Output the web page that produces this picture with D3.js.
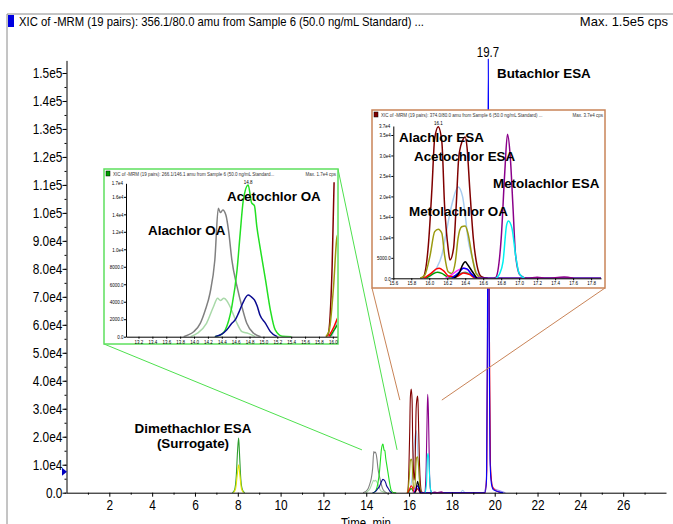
<!DOCTYPE html>
<html>
<head>
<meta charset="utf-8">
<script src="https://cdn.jsdelivr.net/npm/d3@7"></script>
<style>
body { margin: 0; background: #fff; }
svg { display: block; }
.nar { font-family: "Liberation Sans Narrow", "Arial Narrow", "Liberation Sans", Arial, sans-serif; }
.lbl { font-family: "Liberation Sans", Arial, sans-serif; font-weight: bold; font-size: 13.4px; fill: #000; }
</style>
</head>
<body>
<div id="main"></div>
<script>
// traces, [time (min), intensity (cps)]
const gray = [[13.85,0],[13.9,150],[14.0,600],[14.09,1530],[14.16,3000],[14.23,4970],[14.3,8780],[14.35,14700],[14.38,14200],[14.415,14500],[14.46,13900],[14.5,12000],[14.545,8780],[14.62,5720],[14.69,3430],[14.76,1530],[14.86,390],[14.96,0]]
const paleGreen = [[13.95,0],[14.05,400],[14.18,1530],[14.28,3430],[14.34,4390],[14.38,4150],[14.43,4390],[14.47,4150],[14.52,3430],[14.62,1530],[14.69,580],[14.78,380],[14.88,0]]
const green = [[14.3,0],[14.4,300],[14.45,770],[14.545,3430],[14.62,7630],[14.665,11800],[14.71,15600],[14.78,17350],[14.83,15300],[14.87,15000],[14.905,12600],[14.95,10300],[15.03,6490],[15.1,3050],[15.17,770],[15.27,50],[15.4,0]]
const navy = [[14.3,0],[14.4,300],[14.47,770],[14.545,1530],[14.6,2000],[14.64,2670],[14.7,3800],[14.78,4770],[14.82,4600],[14.87,4200],[14.91,3500],[14.95,2480],[15.03,1530],[15.1,580],[15.2,0]]
const darkRed = [[15.9,0],[15.93,200],[15.99,8100],[16.03,22000],[16.06,34100],[16.1,37000],[16.14,33300],[16.17,17900],[16.21,7300],[16.23,4460],[16.27,7300],[16.3,17900],[16.33,30000],[16.38,34100],[16.4,34500],[16.42,32000],[16.45,22000],[16.49,9760],[16.53,3240],[16.58,400],[16.65,0]]
const olive = [[15.9,0],[15.95,800],[16.01,5680],[16.06,11400],[16.1,12000],[16.14,11000],[16.17,5680],[16.21,1600],[16.25,1200],[16.29,4000],[16.32,9760],[16.36,12600],[16.4,12800],[16.43,11000],[16.48,4900],[16.52,1200],[16.58,0]]
const lightBlue = [[15.98,0],[16.08,2440],[16.14,5680],[16.19,11400],[16.25,17900],[16.32,22300],[16.37,20000],[16.4,15400],[16.43,9760],[16.48,4900],[16.53,1200],[16.62,0],[18.4,0],[18.5,900],[18.6,0]]
const purple = [[16.72,0],[16.74,200],[16.8,9760],[16.84,26000],[16.87,35200],[16.9,30000],[16.93,17900],[16.96,5680],[17.01,800],[17.09,0],[17.2,250],[17.3,0],[17.5,300],[17.6,0]]
const cyan = [[16.74,0],[16.78,1000],[16.82,4000],[16.86,13000],[16.88,14000],[16.92,12200],[16.96,5680],[17.0,1200],[17.06,0]]
const red = [[15.94,0],[16.02,1200],[16.08,2300],[16.11,2440],[16.16,1800],[16.22,500],[16.3,400],[16.38,1300],[16.45,900],[16.52,0],[19.55,0],[19.63,8000],[19.67,70000],[19.71,130000],[19.75,60000],[19.8,10000],[19.9,2000],[20.1,500],[20.3,0]]
const smallGreen = [[15.96,0],[16.03,900],[16.09,1500],[16.14,1200],[16.2,400],[16.26,0]]
const teal = [[16.22,0],[16.3,700],[16.4,1500],[16.46,900],[16.52,0]]
const black = [[16.27,0],[16.3,400],[16.34,1600],[16.37,3240],[16.4,4050],[16.43,3240],[16.48,1600],[16.53,0]]
const magenta = [[16.18,0],[16.25,900],[16.32,2000],[16.38,2500],[16.43,2000],[16.5,500],[16.56,0]]
const blue = [[16.25,0],[16.32,1200],[16.38,2440],[16.42,2300],[16.47,1000],[16.54,0],[19.55,0],[19.62,5000],[19.66,60000],[19.7,155000],[19.74,60000],[19.78,12000],[19.85,3000],[19.95,1000],[20.2,300],[20.4,0]]
const lavender = [[19.5,0],[19.6,3000],[19.66,40000],[19.7,90000],[19.75,40000],[19.82,6000],[19.95,1500],[20.2,800],[20.5,0]]
const forestGreen = [[7.75,0],[7.85,1000],[7.93,6000],[7.99,15000],[8.04,19500],[8.08,14000],[8.14,5000],[8.22,1000],[8.32,0]]
const yellow = [[7.8,0],[7.9,1500],[7.97,6000],[8.04,10000],[8.1,6000],[8.17,1500],[8.27,0]]

const series = [
    {pts: gray, color: "#808080"},
    {pts: paleGreen, color: "#a9d9a9"},
    {pts: green, color: "#22e022"},
    {pts: navy, color: "#0a0a90"},
    {pts: forestGreen, color: "#2e9e2e"},
    {pts: yellow, color: "#e6e600"},
    {pts: lightBlue, color: "#a8ccf0"},
    {pts: darkRed, color: "#800000"},
    {pts: olive, color: "#9a9a10"},
    {pts: smallGreen, color: "#00a000"},
    {pts: teal, color: "#3c9c84"},
    {pts: magenta, color: "#ff30ff"},
    {pts: lavender, color: "#9d90f0"},
    {pts: red, color: "#ff0000"},
    {pts: blue, color: "#0000ff"},
    {pts: black, color: "#000000"},
    {pts: purple, color: "#8a008a"},
    {pts: cyan, color: "#00f0f0"}
]

const mainTicksY = d3.range(0, 16).map(i => i * 1e4)
const mainTicksX = d3.range(2, 27, 2)
const title = "XIC of -MRM (19 pairs): 356.1/80.0 amu from Sample 6 (50.0 ng/mL Standard) ..."
const titleMax = "Max. 1.5e5 cps"

let width = 673,
    height = 524

const narrow = 0.82
const fmtV = v => v === 0 ? "0.0" : v < 1e4 ? v.toFixed(1) : d3.format(".1e")(v).replace("+", "")

var svg = d3.select("div#main")
    .append("svg")
    .attr("width", width)
    .attr("height", height)

const x = d3.scaleLinear().domain([0, 28]).range([66.5, 666])
const y = d3.scaleLinear().domain([0, 1.545e5]).range([492.7, 60.4])

function drawTraces(g, xs, ys, w) {
    const line = d3.line()
        .x(d => xs(d[0]))
        .y(d => ys(d[1]))
        .curve(d3.curveMonotoneX)
    g.selectAll("path.trace")
        .data(series)
        .join("path")
        .attr("class", "trace")
        .attr("fill", "none")
        .attr("stroke", d => d.color)
        .attr("stroke-width", w)
        .attr("stroke-linejoin", "round")
        .attr("d", d => line(d.pts))
}

function styleAxis(g, size) {
    g.attr("font-family", null).attr("font-size", null)
    g.classed("nar", true)
    g.selectAll("text").style("font-size", size + "px").attr("fill", "#000")
        .attr("transform", "scale(" + narrow + ",1)")
    g.selectAll("path.domain, line").attr("stroke", "#000")
}

// narrow text placed at (px, py)
function narText(g, px, py, size, t, anchor) {
    return g.append("text").attr("class", "nar")
        .attr("transform", "translate(" + px + "," + py + ") scale(" + narrow + ",1)")
        .attr("text-anchor", anchor || "start")
        .style("font-size", size + "px")
        .text(t)
}

// frame + title
svg.append("line").attr("x1", 7).attr("x2", width).attr("y1", 14).attr("y2", 14).attr("stroke", "#8a8a8a")
svg.append("line").attr("x1", 7).attr("x2", 7).attr("y1", 14).attr("y2", height).attr("stroke", "#8a8a8a")
svg.append("rect").attr("x", 8).attr("y", 15).attr("width", 6).attr("height", 12).attr("fill", "#0000e0")
svg.append("text").attr("class", "nar").attr("x", 19).attr("y", 26)
    .attr("textLength", 405).attr("lengthAdjust", "spacingAndGlyphs")
    .style("font-size", "13px").text(title)
svg.append("text").attr("class", "nar").attr("x", 668).attr("y", 26)
    .attr("text-anchor", "end").style("font-size", "13px").text(titleMax)

// main traces
drawTraces(svg.append("g"), x, y, 1.1)

// axes
svg.append("g").attr("transform", "translate(" + x(0) + ",0)")
    .call(d3.axisLeft(y).tickValues(d3.range(0, 31).map(i => i * 5e3)).tickSize(2).tickFormat(""))
    .call(g => g.selectAll("path.domain").remove())
    .call(g => styleAxis(g, 14))
svg.append("g").attr("transform", "translate(" + x(0) + ",0)")
    .call(d3.axisLeft(y).tickValues(mainTicksY).tickSize(4).tickSizeOuter(0).tickPadding(1).tickFormat(fmtV))
    .call(g => styleAxis(g, 14.5))
svg.append("g").attr("transform", "translate(0," + y(0) + ")")
    .call(d3.axisBottom(x).tickValues(d3.range(1, 28, 2)).tickSize(2).tickFormat(""))
    .call(g => g.selectAll("path.domain").remove())
    .call(g => styleAxis(g, 14))
svg.append("g").attr("transform", "translate(0," + y(0) + ")")
    .call(d3.axisBottom(x).tickValues(mainTicksX).tickSize(4).tickSizeOuter(0).tickFormat(d3.format("d")))
    .call(g => styleAxis(g, 14.5))
narText(svg, 366, 528, 14, "Time, min", "middle")
svg.append("path").attr("d", "M62," + (y(7.5e3) - 4) + "L67," + y(7.5e3) + "L62," + (y(7.5e3) + 4) + "Z").attr("fill", "#0000c0")

// connector lines
const connectors = [
    {from: [104, 344], to: [13.8, 1.53e4], color: "#4ee04e"},
    {from: [338, 169], to: [15.44, 1.53e4], color: "#4ee04e"},
    {from: [372, 288], to: [15.57, 3.31e4], color: "#c98458"},
    {from: [605, 288], to: [17.53, 3.31e4], color: "#c98458"}
]
svg.selectAll("line.conn").data(connectors).join("line").attr("class", "conn")
    .attr("x1", d => d.from[0]).attr("y1", d => d.from[1])
    .attr("x2", d => x(d.to[0])).attr("y2", d => y(d.to[1]))
    .attr("stroke", d => d.color).attr("stroke-width", 1)

// insets
function inset(o) {
    const g = svg.append("g")
    g.append("rect").attr("x", o.box[0]).attr("y", o.box[1]).attr("width", o.box[2] - o.box[0]).attr("height", o.box[3] - o.box[1])
        .attr("fill", "#fff").attr("stroke", o.border).attr("stroke-width", 1.5)
    g.append("rect").attr("x", o.box[0] + 2).attr("y", o.box[1] + 2).attr("width", 4).attr("height", 5).attr("fill", o.icon)
        .attr("stroke", "#000").attr("stroke-width", 0.5)
    narText(g, o.box[0] + 9, o.box[1] + 6.5, 5.5, o.title).attr("fill", "#333")
    narText(g, o.box[2] - 2, o.box[1] + 6.5, 5.5, o.max, "end").attr("fill", "#333")

    const xs = d3.scaleLinear().domain(o.xd).range([o.plot[0], o.plot[2]])
    const ys = d3.scaleLinear().domain(o.yd).range([o.plot[3], o.plot[1]])
    const id = "clip" + o.box[0]
    g.append("clipPath").attr("id", id).append("rect")
        .attr("x", o.plot[0]).attr("y", o.plot[1] - 1).attr("width", o.plot[2] - o.plot[0]).attr("height", o.plot[3] - o.plot[1] + 1)
    drawTraces(g.append("g").attr("clip-path", "url(#" + id + ")"), xs, ys, 1.5)

    g.append("g").attr("transform", "translate(" + o.plot[0] + ",0)")
        .call(d3.axisLeft(ys).tickValues(o.yTicks).tickSize(2).tickSizeOuter(0).tickPadding(1).tickFormat(fmtV))
        .call(g => styleAxis(g, 5.5))
    narText(g, o.plot[0] - 3, o.plot[1] + 2, 5.5, o.topLabel, "end")
    g.append("g").attr("transform", "translate(0," + o.plot[3] + ")")
        .call(d3.axisBottom(xs).tickValues(o.xTicks).tickSize(2).tickSizeOuter(0).tickPadding(1).tickFormat(d3.format(".1f")))
        .call(g => styleAxis(g, 5.5))
    narText(g, xs(o.peak[0]), ys(o.peak[1]) - 1.5, 5.5, o.peak[0].toFixed(1), "middle")
}

inset({
    box: [104, 169, 338, 344], plot: [126, 183.3, 337, 336.7],
    xd: [13.02, 16.06], yd: [0, 1.755e4],
    xTicks: d3.range(66, 81).map(i => i / 5),
    yTicks: [0, 2000, 4000, 6000, 8000, 1e4, 1.2e4, 1.4e4, 1.6e4],
    topLabel: "1.7e4", peak: [14.78, 17350],
    border: "#5ee05e", icon: "#00a000",
    title: "XIC of -MRM (19 pairs): 266.1/146.1 amu from Sample 6 (50.0 ng/mL Standard...",
    max: "Max. 1.7e4 cps"
})
inset({
    box: [372, 110, 605, 288], plot: [393.3, 126, 601, 278.3],
    xd: [15.6, 17.91], yd: [0, 3.72e4],
    xTicks: d3.range(78, 90).map(i => i / 5),
    yTicks: [0, 5000, 1e4, 1.5e4, 2e4, 2.5e4, 3e4, 3.5e4],
    topLabel: "3.7e4", peak: [16.1, 37000],
    border: "#c98458", icon: "#800000",
    title: "XIC of -MRM (19 pairs): 374.0/80.0 amu from Sample 6 (50.0 ng/mL Standard) ...",
    max: "Max. 3.7e4 cps"
})

// peak names
narText(svg, 488, 57, 14, "19.7", "middle")
const labels = [
    {t: "Butachlor ESA", x: 497, y: 78},
    {t: "Dimethachlor ESA", x: 193, y: 433, anchor: "middle"},
    {t: "(Surrogate)", x: 193, y: 448, anchor: "middle"},
    {t: "Alachlor OA", x: 148, y: 235},
    {t: "Acetochlor OA", x: 227, y: 201},
    {t: "Alachlor ESA", x: 399, y: 142},
    {t: "Acetochlor ESA", x: 414, y: 161},
    {t: "Metolachlor OA", x: 409, y: 216},
    {t: "Metolachlor ESA", x: 493, y: 188}
]
svg.selectAll("text.pk").data(labels).join("text")
    .attr("class", "pk lbl")
    .attr("x", d => d.x).attr("y", d => d.y)
    .attr("text-anchor", d => d.anchor || "start")
    .text(d => d.t)
</script>
</body>
</html>
